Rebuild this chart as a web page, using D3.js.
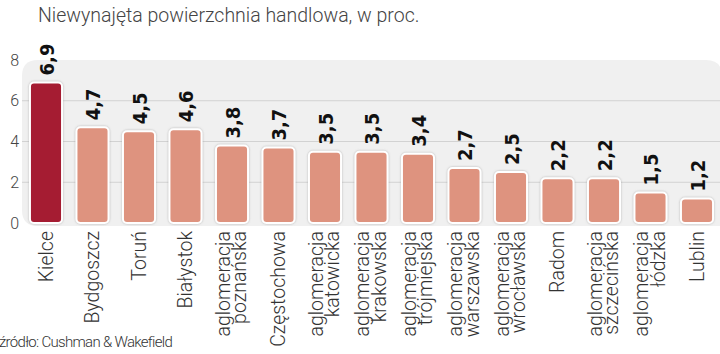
<!DOCTYPE html>
<html>
<head>
<meta charset="utf-8">
<script src="https://cdn.jsdelivr.net/npm/d3@7"></script>
<style>
  body { margin: 0; background: #fff; }
  svg { display: block; }
</style>
</head>
<body>
<div id="chart"></div>
<script>
// Data
const cities = ["Kielce", "Bydgoszcz", "Toruń", "Białystok", "aglomeracja\npoznańska",
    "Częstochowa", "aglomeracja\nkatowicka", "aglomeracja\nkrakowska", "aglomeracja\ntrójmiejska",
    "aglomeracja\nwarszawska", "aglomeracja\nwrocławska", "Radom", "aglomeracja\nszczecińska",
    "aglomeracja\nłódzka", "Lublin"];
const vacancy = [6.9, 4.7, 4.5, 4.6, 3.8, 3.7, 3.5, 3.5, 3.4, 2.7, 2.5, 2.2, 2.2, 1.5, 1.2];
const yTicks = [0, 2, 4, 6, 8];
const highlight = "Kielce";

const data = cities.map((c, i) => ({ city: c, value: vacancy[i] }));

const width = 720, height = 354;

const svg = d3.select("#chart").append("svg")
    .attr("width", width)
    .attr("height", height);

// Shadow filter for bars
const defs = svg.append("defs");
const f = defs.append("filter").attr("id", "shadow").attr("x", "-20%").attr("y", "-20%").attr("width", "140%").attr("height", "140%");
f.append("feDropShadow").attr("dx", 0).attr("dy", 0).attr("stdDeviation", 1).attr("flood-color", "#888").attr("flood-opacity", 0.6);

const x = d3.scaleBand()
    .domain(cities)
    .range([22.75, 720.25])
    .paddingInner(0.31)
    .paddingOuter(0.155);

const y = d3.scaleLinear()
    .domain([0, 8])
    .range([223, 60]);

// Title
svg.append("text")
    .attr("x", 38)
    .attr("y", 22)
    .attr("font-family", "Roboto")
    .attr("font-weight", 300)
    .attr("font-size", 19.5)
    .attr("fill", "#444")
    .text("Niewynajęta powierzchnia handlowa, w proc.");

// Background panel
svg.append("path")
    .attr("d", (() => {
        const x0 = 22, x1 = 722, y0 = 60, y1 = 226, r = 16;
        return `M${x0},${y0 + r} Q${x0},${y0} ${x0 + r},${y0} L${x1 - r},${y0} Q${x1},${y0} ${x1},${y0 + r}
                L${x1},${y1} L${x0 + r},${y1} Q${x0},${y1} ${x0},${y1 - r} Z`;
    })())
    .attr("fill", "#f0f0f0");

// Gridlines
svg.append("g")
    .selectAll("line")
    .data(yTicks.filter(d => d > 0 && d < 8))
    .enter().append("line")
    .attr("x1", 22)
    .attr("x2", 720)
    .attr("y1", d => y(d))
    .attr("y2", d => y(d))
    .attr("stroke", "#d2d2d2")
    .attr("stroke-width", 1.2);

// Y axis labels
const yAxis = svg.append("g")
    .attr("transform", "translate(19,0)")
    .call(d3.axisLeft(y).tickValues(yTicks).tickSize(0).tickPadding(0));
yAxis.select(".domain").remove();
yAxis.selectAll("text")
    .attr("font-family", "Roboto")
    .attr("font-weight", 300)
    .attr("font-size", 16)
    .attr("fill", "#444");

// Bars
svg.append("g")
    .selectAll("rect")
    .data(data)
    .enter().append("rect")
    .attr("x", d => x(d.city))
    .attr("y", d => y(d.value))
    .attr("width", x.bandwidth())
    .attr("height", d => y(0) - y(d.value))
    .attr("rx", 4)
    .attr("fill", d => d.city === highlight ? "#a51a31" : "#de937f")
    .attr("stroke", "#fff")
    .attr("stroke-width", 2)
    .attr("filter", "url(#shadow)");

// Value labels
svg.append("g")
    .selectAll("text")
    .data(data)
    .enter().append("text")
    .attr("transform", d => `translate(${x(d.city) + x.bandwidth() / 2 + 7.5},${y(d.value) - 7}) rotate(-90)`)
    .attr("font-family", "DejaVu Sans Condensed, DejaVu Sans")
    .attr("font-stretch", "condensed")
    .attr("font-weight", "bold")
    .attr("font-size", 20)
    .attr("fill", "#111")
    .text(d => String(d.value).replace(".", ","));

// Category labels
const cat = svg.append("g")
    .selectAll("text")
    .data(data)
    .enter().append("text")
    .attr("transform", d => {
        const lines = d.city.split("\n").length;
        const cx = x(d.city) + x.bandwidth() / 2 + (lines === 1 ? 6.5 : -2.5);
        return `translate(${cx},231) rotate(-90)`;
    })
    .attr("text-anchor", "end")
    .attr("font-family", "Roboto")
    .attr("font-weight", 300)
    .attr("font-size", 19.5)
    .attr("fill", "#333");

cat.selectAll("tspan")
    .data(d => d.city.split("\n"))
    .enter().append("tspan")
    .attr("x", 0)
    .attr("dy", (d, i) => i === 0 ? 0 : 16.5)
    .text(d => d);

// Source
svg.append("text")
    .attr("x", -1)
    .attr("y", 347)
    .attr("font-family", "Roboto")
    .attr("font-weight", 300)
    .attr("font-size", 15)
    .attr("letter-spacing", -0.7)
    .attr("fill", "#333")
    .text("źródło: Cushman & Wakefield");
</script>
</body>
</html>
